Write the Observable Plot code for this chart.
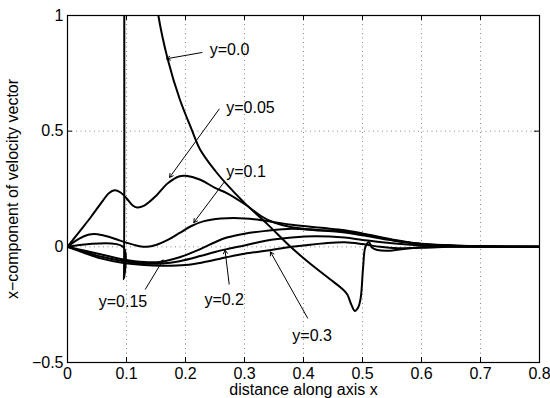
<!DOCTYPE html>
<html>
<head>
<meta charset="utf-8">
<script src="https://cdn.jsdelivr.net/npm/d3@7"></script>
<script src="https://cdn.jsdelivr.net/npm/@observablehq/plot@0.6"></script>
<style>
  html, body { margin: 0; padding: 0; background: #fff; }
  #chart { width: 550px; height: 398px; }
</style>
</head>
<body>
<div id="chart"></div>
<script>
// ---- data ----
const xTicks = [0, 0.1, 0.2, 0.3, 0.4, 0.5, 0.6, 0.7, 0.8];
const yTicks = [-0.5, 0, 0.5, 1];
const xLabel = "distance along axis x";
const yLabel = "x\u2212component of velocity vector";

// y = 0.0
const curveY000 = [[0,0],[0.094,0],[0.0955,-0.14],[0.0995,4],[0.12,2.0],[0.14,1.3],[0.154,1.0],[0.17,0.81],
  [0.19,0.64],[0.21,0.51],[0.225,0.42],[0.25,0.33],[0.27,0.27],[0.3,0.19],[0.34,0.095],[0.378,0.0],
  [0.41,-0.07],[0.445,-0.14],[0.463,-0.176],[0.474,-0.205],[0.481,-0.25],[0.487,-0.277],[0.493,-0.26],
  [0.497,-0.22],[0.501,-0.09],[0.505,0.0],[0.511,0.02],[0.516,-0.003],[0.525,-0.014],[0.547,-0.017],
  [0.576,-0.007],[0.62,0],[0.8,0]];
// y = 0.05
const curveY005 = [[0,0],[0.02,0.065],[0.04,0.13],[0.06,0.2],[0.07,0.232],[0.08,0.245],[0.09,0.235],
  [0.1,0.21],[0.11,0.18],[0.118,0.17],[0.13,0.178],[0.15,0.22],[0.17,0.275],[0.19,0.305],[0.2,0.307],
  [0.225,0.29],[0.25,0.255],[0.27,0.232],[0.3,0.185],[0.33,0.13],[0.35,0.105],[0.38,0.085],[0.42,0.074],
  [0.47,0.066],[0.5,0.055],[0.55,0.03],[0.6,0.012],[0.65,0.005],[0.7,0.002],[0.8,0]];
// y = 0.1
const curveY010 = [[0,0],[0.02,0.035],[0.035,0.052],[0.045,0.056],[0.06,0.05],[0.08,0.035],[0.1,0.018],
  [0.12,0.004],[0.135,0.0],[0.15,0.008],[0.17,0.03],[0.19,0.06],[0.21,0.09],[0.23,0.11],[0.26,0.122],
  [0.3,0.123],[0.33,0.115],[0.38,0.095],[0.43,0.082],[0.47,0.072],[0.5,0.058],[0.55,0.032],[0.6,0.013],
  [0.7,0.002],[0.8,0]];
// y = 0.15
const curveY015 = [[0,0],[0.03,-0.017],[0.056,-0.032],[0.095,-0.055],[0.13,-0.066],[0.16,-0.064],
  [0.19,-0.045],[0.225,-0.01],[0.25,0.02],[0.27,0.04],[0.3,0.057],[0.336,0.069],[0.38,0.078],[0.42,0.072],
  [0.47,0.062],[0.5,0.05],[0.55,0.028],[0.6,0.012],[0.7,0.002],[0.8,0]];
// y = 0.2
const curveY020 = [[0,0],[0.03,-0.022],[0.056,-0.042],[0.095,-0.062],[0.13,-0.072],[0.16,-0.072],
  [0.19,-0.062],[0.225,-0.04],[0.25,-0.022],[0.27,-0.01],[0.3,0.006],[0.336,0.026],[0.38,0.04],
  [0.42,0.046],[0.47,0.04],[0.5,0.03],[0.55,0.015],[0.6,0.006],[0.7,0.001],[0.8,0]];
// y = 0.3
const curveY030 = [[0,0],[0.03,-0.028],[0.056,-0.05],[0.095,-0.07],[0.13,-0.079],[0.16,-0.082],
  [0.2,-0.079],[0.23,-0.067],[0.268,-0.046],[0.3,-0.03],[0.336,-0.017],[0.38,0.0],[0.437,0.016],
  [0.47,0.02],[0.5,0.012],[0.53,0.0],[0.56,-0.006],[0.6,-0.004],[0.65,0],[0.8,0]];

// annotation labels and arrows
const labelText = ["y=0.0", "y=0.05", "y=0.1", "y=0.15", "y=0.2", "y=0.3"];
const labelX    = [0.241, 0.269, 0.269, 0.053, 0.232, 0.381];
const labelY    = [0.85, 0.599, 0.325, -0.24, -0.23, -0.384];
const arrowX1   = [0.228, 0.257, 0.265, 0.132, 0.274, 0.407];
const arrowY1   = [0.84, 0.595, 0.278, -0.183, -0.161, -0.308];
const arrowX2   = [0.168, 0.173, 0.214, 0.162, 0.267, 0.344];
const arrowY2   = [0.813, 0.30, 0.105, -0.057, -0.014, -0.022];

// ---- build tables ----
const seriesList = [curveY000, curveY005, curveY010, curveY015, curveY020, curveY030];
const lines = seriesList.flatMap((s, i) => s.map(([x, y]) => ({x, y, s: i})));
const labels = labelText.map((t, i) => ({t, x: labelX[i], y: labelY[i]}));
const arrows = labelText.map((t, i) => ({x1: arrowX1[i], y1: arrowY1[i], x2: arrowX2[i], y2: arrowY2[i]}));

const W = 550, H = 398, mL = 67, mR = 11, mT = 15, mB = 36;
const pw = W - mL - mR, ph = H - mT - mB, tk = 5;
const fmt = d => d < 0 ? "\u2212" + (-d) : String(d);

const chart = Plot.plot({
  width: W, height: H,
  marginLeft: mL, marginRight: mR, marginTop: mT, marginBottom: mB,
  style: {fontFamily: "'Liberation Sans', Arial, Helvetica, sans-serif", fontSize: "16px", background: "#fff", color: "#000"},
  x: {domain: [0, 0.8]},
  y: {domain: [-0.5, 1]},
  marks: [
    Plot.gridX(xTicks, {stroke: "#888", strokeOpacity: 1, strokeDasharray: "1,3.5"}),
    Plot.gridY(yTicks, {stroke: "#888", strokeOpacity: 1, strokeDasharray: "1,3.5"}),
    Plot.line(lines, {x: "x", y: "y", z: "s", stroke: "#000", strokeWidth: 2, clip: true, curve: "catmull-rom"}),
    Plot.frame({stroke: "#000", strokeWidth: 1.2}),
    Plot.tickX(xTicks, {x: d => d, insetTop: ph - tk, stroke: "#000"}),
    Plot.tickX(xTicks, {x: d => d, insetBottom: ph - tk, stroke: "#000"}),
    Plot.tickY(yTicks, {y: d => d, insetRight: pw - tk, stroke: "#000"}),
    Plot.tickY(yTicks, {y: d => d, insetLeft: pw - tk, stroke: "#000"}),
    Plot.axisX(xTicks, {tickSize: 0, tickPadding: 5, tickFormat: fmt, label: null, fontSize: 16}),
    Plot.axisY(yTicks, {tickSize: 0, tickPadding: 4, tickFormat: fmt, label: null, fontSize: 16}),
    Plot.arrow(arrows, {x1: "x1", y1: "y1", x2: "x2", y2: "y2", stroke: "#000", strokeWidth: 1, headLength: 6}),
    Plot.text(labels, {x: "x", y: "y", text: "t", textAnchor: "start", fontSize: 16, fill: "#000"}),
    Plot.text([xLabel], {frameAnchor: "bottom", dy: 27, lineAnchor: "middle", textAnchor: "middle", text: d => d, fontSize: 16, fill: "#000"}),
    Plot.text([yLabel], {frameAnchor: "left", dx: -55, rotate: -90, lineAnchor: "middle", textAnchor: "middle", text: d => d, fontSize: 16, fill: "#000"})
  ]
});
document.getElementById("chart").appendChild(chart);
</script>
</body>
</html>
